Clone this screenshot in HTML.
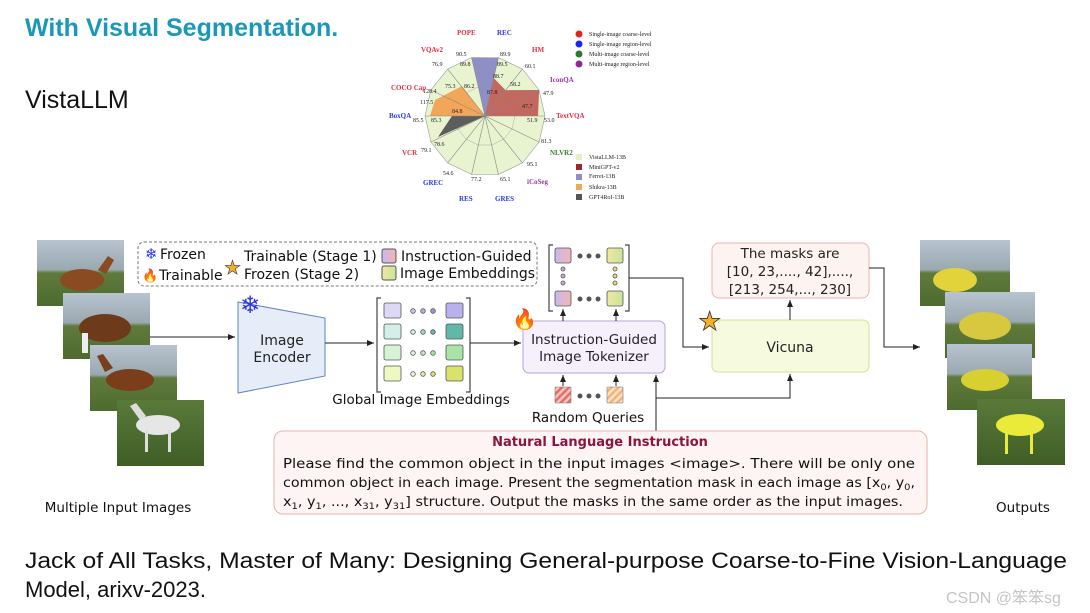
<!DOCTYPE html>
<html><head><meta charset="utf-8"><style>
html,body{margin:0;padding:0;background:#fff;}
svg{display:block;font-family:"Liberation Sans","DejaVu Sans",sans-serif;}
.d{font-family:"DejaVu Sans","Liberation Sans",sans-serif;}
.s{font-family:"Liberation Serif",serif;font-weight:bold;font-size:7px;}
.n{font-family:"Liberation Serif",serif;font-size:6px;fill:#222;}
</style></head><body>
<svg width="1090" height="613" viewBox="0 0 1090 613" xmlns="http://www.w3.org/2000/svg">
<defs>
<marker id="ar" markerWidth="8" markerHeight="8" refX="7" refY="4" orient="auto" markerUnits="userSpaceOnUse"><path d="M0,1 L7,4 L0,7 z" fill="#222"/></marker>
<linearGradient id="sky" x1="0" y1="0" x2="0" y2="1"><stop offset="0" stop-color="#b8c4d0"/><stop offset="0.45" stop-color="#9aa8b0"/><stop offset="0.5" stop-color="#5f7a3c"/><stop offset="1" stop-color="#4d6b2e"/></linearGradient>
<linearGradient id="grass" x1="0" y1="0" x2="0" y2="1"><stop offset="0" stop-color="#5a7a3a"/><stop offset="1" stop-color="#3f5e26"/></linearGradient>
<linearGradient id="pk" x1="0" y1="0" x2="1" y2="0"><stop offset="0" stop-color="#c9b8ef"/><stop offset="1" stop-color="#f4b4b4"/></linearGradient>
<linearGradient id="yg" x1="0" y1="0" x2="1" y2="0"><stop offset="0" stop-color="#f2e7a0"/><stop offset="1" stop-color="#c9e39a"/></linearGradient>
<pattern id="hr" width="5" height="5" patternUnits="userSpaceOnUse" patternTransform="rotate(45)"><rect width="5" height="5" fill="#f7c6c0"/><rect width="2.5" height="5" fill="#ea6b6b"/></pattern>
<pattern id="ho" width="5" height="5" patternUnits="userSpaceOnUse" patternTransform="rotate(45)"><rect width="5" height="5" fill="#fbe2c6"/><rect width="2.5" height="5" fill="#f3b37c"/></pattern>
</defs>

<text x="25" y="36" font-size="25" font-weight="bold" fill="#1b98b8">With Visual Segmentation.</text>
<text x="25" y="108" font-size="25" fill="#111">VistaLLM</text>

<!-- radar -->
<polygon points="545,116 539.1,90 522.4,69.1 498.4,57.5 471.6,57.5 447.6,69.1 430.9,90 425,116 430.9,142 447.6,162.9 471.6,174.5 498.4,174.5 522.4,162.9 539.1,142" fill="#e8f3cf" stroke="#999" stroke-width="0.6"/>
<polygon points="515,116 512,103 500,92 492,87 478,87 466,93 458,103 455,116 458,129 466,139 478,145 492,145 504,139 512,129" fill="none" stroke="#aaa" stroke-width="0.5"/>
<polygon points="485,116 471.6,57.5 498.4,58" fill="#8e8fc4"/>
<polygon points="485,116 493.7,78 505.6,90.2 539.1,90 538,116" fill="#c2685e"/>
<polygon points="485,116 462,86 435,100 430,116" fill="#f2a65a"/>
<polygon points="485,116 452,116 438,137" fill="#5d5d5d"/>
<g stroke="#888" stroke-width="0.6">
<line x1="485" y1="116" x2="545" y2="116"/><line x1="485" y1="116" x2="539.1" y2="90"/><line x1="485" y1="116" x2="522.4" y2="69.1"/><line x1="485" y1="116" x2="498.4" y2="57.5"/><line x1="485" y1="116" x2="471.6" y2="57.5"/><line x1="485" y1="116" x2="447.6" y2="69.1"/><line x1="485" y1="116" x2="430.9" y2="90"/><line x1="485" y1="116" x2="425" y2="116"/><line x1="485" y1="116" x2="430.9" y2="142"/><line x1="485" y1="116" x2="447.6" y2="162.9"/><line x1="485" y1="116" x2="471.6" y2="174.5"/><line x1="485" y1="116" x2="498.4" y2="174.5"/><line x1="485" y1="116" x2="522.4" y2="162.9"/><line x1="485" y1="116" x2="539.1" y2="142"/>
</g>
<g class="s">
<text x="457" y="35" fill="#e03040">POPE</text><text x="497" y="35" fill="#2a3adf">REC</text><text x="532" y="52" fill="#e03040">HM</text>
<text x="550" y="82" fill="#9a3aa0">IconQA</text><text x="556" y="118" fill="#e03040">TextVQA</text><text x="550" y="155" fill="#2f7d2f">NLVR2</text>
<text x="527" y="184" fill="#9a3aa0">iCoSeg</text><text x="495" y="201" fill="#2a3adf">GRES</text><text x="459" y="201" fill="#2a3adf">RES</text>
<text x="423" y="185" fill="#2a3adf">GREC</text><text x="402" y="155" fill="#e03040">VCR</text><text x="389" y="118" fill="#2a3adf">BoxQA</text>
<text x="391" y="90" fill="#e03040">COCO Cap</text><text x="421" y="52" fill="#e03040">VQAv2</text>
</g>
<g class="n">
<text x="456" y="56">90.5</text><text x="460" y="66">89.8</text><text x="500" y="56">89.9</text><text x="497" y="66">89.5</text><text x="493" y="78">88.7</text>
<text x="525" y="68">60.1</text><text x="510" y="86">58.2</text><text x="543" y="95">47.9</text><text x="522" y="108">47.7</text>
<text x="527" y="122">51.9</text><text x="544" y="122">53.0</text><text x="541" y="143">81.3</text><text x="527" y="166">95.1</text>
<text x="500" y="181">65.1</text><text x="471" y="181">77.2</text><text x="443" y="175">54.6</text><text x="421" y="152">79.1</text><text x="434" y="146">78.6</text>
<text x="413" y="122">85.5</text><text x="431" y="122">85.3</text><text x="452" y="113">84.8</text><text x="420" y="104">117.5</text>
<text x="423" y="93">128.4</text><text x="432" y="66">76.9</text><text x="445" y="88">75.3</text><text x="464" y="88">86.2</text><text x="487" y="94">87.8</text>
</g>
<circle cx="579" cy="34" r="3.5" fill="#e52222"/><circle cx="579" cy="44" r="3.5" fill="#1a26f0"/><circle cx="579" cy="54" r="3.5" fill="#2b7a2b"/><circle cx="579" cy="64" r="3.5" fill="#8a2a9a"/>
<g class="n" font-size="5.5"><text x="589" y="36">Single-image coarse-level</text><text x="589" y="46">Single-image region-level</text><text x="589" y="56">Multi-image coarse-level</text><text x="589" y="66">Multi-image region-level</text>
<text x="589" y="159">VistaLLM-13B</text><text x="589" y="169">MiniGPT-v2</text><text x="589" y="178">Ferret-13B</text><text x="589" y="189">Shikra-13B</text><text x="589" y="199">GPT4RoI-13B</text></g>
<rect x="576" y="154" width="6" height="6" fill="#e3efc6"/><rect x="576" y="164" width="6" height="6" fill="#9a2a2a"/><rect x="576" y="174" width="6" height="6" fill="#8e8fc4"/><rect x="576" y="184" width="6" height="6" fill="#f2a65a"/><rect x="576" y="194" width="6" height="6" fill="#555"/>

<!-- legend box -->
<rect x="138" y="242" width="399" height="44" rx="6" fill="none" stroke="#777" stroke-dasharray="3,2" stroke-width="1"/>
<g class="d" font-size="14" fill="#111">
<text x="145" y="259" fill="#2a35e6" font-size="15">❄</text><text x="160" y="259">Frozen</text>
<text x="142" y="280" fill="#f07a20" font-size="13">🔥</text><text x="159" y="280">Trainable</text>
<text x="224" y="274" fill="#f4b02a" font-size="19" stroke="#333" stroke-width="0.6">★</text>
<text x="244" y="261">Trainable (Stage 1)</text><text x="244" y="279">Frozen (Stage 2)</text>
<rect x="382" y="249" width="14" height="14" rx="2" fill="url(#pk)" stroke="#555"/><rect x="382" y="266" width="14" height="14" rx="2" fill="url(#yg)" stroke="#555"/>
<text x="401" y="261">Instruction-Guided</text><text x="400" y="278">Image Embeddings</text>
</g>

<!-- input images -->
<g>
<rect x="37" y="240" width="87" height="66" fill="url(#sky)"/><ellipse cx="82" cy="280" rx="22" ry="11" fill="#8a4a22"/><path d="M98,270 l10,-14 6,4 -8,14z" fill="#8a4a22"/>
<rect x="63" y="293" width="87" height="66" fill="url(#sky)"/><ellipse cx="105" cy="328" rx="26" ry="14" fill="#6e3a1c"/><rect x="82" y="333" width="6" height="20" fill="#eee"/>
<rect x="90" y="345" width="87" height="66" fill="url(#sky)"/><ellipse cx="130" cy="380" rx="24" ry="11" fill="#7a3e1a"/><path d="M105,372 l-8,-16 6,-2 10,14z" fill="#7a3e1a"/>
<rect x="117" y="400" width="87" height="66" fill="url(#grass)"/><ellipse cx="158" cy="425" rx="22" ry="10" fill="#e6e6e6"/><path d="M140,420 l-10,-14 6,-3 10,13z" fill="#ddd"/><rect x="145" y="430" width="3" height="22" fill="#ddd"/><rect x="168" y="430" width="3" height="22" fill="#ddd"/>
</g>
<text x="118" y="512" text-anchor="middle" class="d" font-size="13.5" fill="#111">Multiple Input Images</text>

<!-- output images -->
<g>
<rect x="920" y="240" width="90" height="66" fill="url(#sky)"/><ellipse cx="955" cy="280" rx="22" ry="12" fill="#e2d33a"/>
<rect x="945" y="292" width="90" height="66" fill="url(#sky)"/><ellipse cx="985" cy="326" rx="26" ry="14" fill="#d8c840"/>
<rect x="947" y="344" width="85" height="66" fill="url(#sky)"/><ellipse cx="985" cy="380" rx="24" ry="11" fill="#d8cf30"/>
<rect x="977" y="399" width="88" height="66" fill="url(#grass)"/><ellipse cx="1020" cy="425" rx="24" ry="11" fill="#eaea3a"/><rect x="1005" y="430" width="3" height="24" fill="#eaea3a"/><rect x="1030" y="430" width="3" height="24" fill="#eaea3a"/>
</g>
<text x="1023" y="512" text-anchor="middle" class="d" font-size="13.5" fill="#111">Outputs</text>

<!-- encoder -->
<polygon points="238,302 325,318 325,376 238,393" fill="#e6edf8" stroke="#5b86c4" stroke-width="1"/>
<text x="240" y="313" fill="#2a35e6" font-size="24" class="d">❄</text>
<text x="282" y="345" text-anchor="middle" class="d" font-size="14" fill="#222">Image</text>
<text x="282" y="362" text-anchor="middle" class="d" font-size="14" fill="#222">Encoder</text>
<line x1="150" y1="337" x2="235" y2="337" stroke="#222" marker-end="url(#ar)"/>
<line x1="325" y1="343" x2="374" y2="343" stroke="#222" marker-end="url(#ar)"/>

<!-- embeddings -->
<path d="M381,298 h-4 v94 h4 M466,298 h4 v94 h-4" fill="none" stroke="#444" stroke-width="1.2"/>
<g stroke="#555" stroke-width="0.8">
<rect x="384" y="303" width="17" height="15" rx="2" fill="#ddd8f6"/><rect x="446" y="303" width="17" height="15" rx="2" fill="#b9b1ee"/>
<rect x="384" y="324" width="17" height="15" rx="2" fill="#d4efe9"/><rect x="446" y="324" width="17" height="15" rx="2" fill="#62b8a8"/>
<rect x="384" y="345" width="17" height="15" rx="2" fill="#d7f3d5"/><rect x="446" y="345" width="17" height="15" rx="2" fill="#a9e3a7"/>
<rect x="384" y="366" width="17" height="15" rx="2" fill="#eef8c3"/><rect x="446" y="366" width="17" height="15" rx="2" fill="#dbe26a"/>
<circle cx="413" cy="311" r="2.3" fill="#cbc6ee"/><circle cx="423" cy="311" r="2.3" fill="#b3aee6"/><circle cx="433" cy="311" r="2.3" fill="#9d94e0"/>
<circle cx="413" cy="332" r="2.3" fill="#d4efe9"/><circle cx="423" cy="332" r="2.3" fill="#9fd6cb"/><circle cx="433" cy="332" r="2.3" fill="#62b8a8"/>
<circle cx="413" cy="353" r="2.3" fill="#e2f7e0"/><circle cx="423" cy="353" r="2.3" fill="#c4edc2"/><circle cx="433" cy="353" r="2.3" fill="#a9e3a7"/>
<circle cx="413" cy="374" r="2.3" fill="#f3f9cf"/><circle cx="423" cy="374" r="2.3" fill="#e8ed9d"/><circle cx="433" cy="374" r="2.3" fill="#dbe26a"/>
</g>
<text x="421" y="404" text-anchor="middle" class="d" font-size="13.5" fill="#111">Global Image Embeddings</text>
<line x1="470" y1="343" x2="521" y2="343" stroke="#222" marker-end="url(#ar)"/>

<!-- tokenizer -->
<rect x="523" y="321" width="142" height="52" rx="6" fill="#f5f0fb" stroke="#b9a3d6"/>
<text x="512" y="326" font-size="20" fill="#f07a20">🔥</text>
<text x="594" y="344" text-anchor="middle" class="d" font-size="13.5" fill="#222">Instruction-Guided</text>
<text x="594" y="361" text-anchor="middle" class="d" font-size="13.5" fill="#222">Image Tokenizer</text>

<!-- output tokens -->
<path d="M553,245 h-4 v66 h4 M625,245 h4 v66 h-4" fill="none" stroke="#444" stroke-width="1.2"/>
<g stroke="#555" stroke-width="0.8">
<rect x="555" y="248" width="16" height="15" rx="2" fill="url(#pk)"/><rect x="607" y="248" width="16" height="15" rx="2" fill="url(#yg)"/>
<rect x="555" y="291" width="16" height="15" rx="2" fill="url(#pk)"/><rect x="607" y="291" width="16" height="15" rx="2" fill="url(#yg)"/>
<circle cx="563" cy="269" r="2" fill="#c9a8e0"/><circle cx="563" cy="276" r="2" fill="#c9a8e0"/><circle cx="563" cy="283" r="2" fill="#c9a8e0"/>
<circle cx="615" cy="269" r="2" fill="#e8de70"/><circle cx="615" cy="276" r="2" fill="#e8de70"/><circle cx="615" cy="283" r="2" fill="#e8de70"/>
</g>
<g fill="#555"><circle cx="580" cy="256" r="2.5"/><circle cx="589" cy="256" r="2.5"/><circle cx="598" cy="256" r="2.5"/><circle cx="580" cy="299" r="2.5"/><circle cx="589" cy="299" r="2.5"/><circle cx="598" cy="299" r="2.5"/></g>
<line x1="563" y1="321" x2="563" y2="309" stroke="#222" marker-end="url(#ar)"/>
<line x1="616" y1="321" x2="616" y2="309" stroke="#222" marker-end="url(#ar)"/>
<polyline points="629,278 683,278 683,347 709,347" fill="none" stroke="#222" marker-end="url(#ar)"/>

<!-- random queries -->
<rect x="555" y="387" width="16" height="16" rx="1" fill="url(#hr)" stroke="#777" stroke-width="0.6"/>
<rect x="607" y="387" width="16" height="16" rx="1" fill="url(#ho)" stroke="#777" stroke-width="0.6"/>
<g fill="#555"><circle cx="580" cy="396" r="2.5"/><circle cx="589" cy="396" r="2.5"/><circle cx="598" cy="396" r="2.5"/></g>
<line x1="563" y1="386" x2="563" y2="375" stroke="#222" marker-end="url(#ar)"/>
<line x1="616" y1="386" x2="616" y2="375" stroke="#222" marker-end="url(#ar)"/>
<text x="588" y="422" text-anchor="middle" class="d" font-size="13.5" fill="#111">Random Queries</text>

<!-- vicuna -->
<rect x="712" y="320" width="157" height="52" rx="6" fill="#f6fadf" stroke="#cfe39a"/>
<text x="790" y="352" text-anchor="middle" class="d" font-size="14" fill="#222">Vicuna</text>
<text x="698" y="330" font-size="26" fill="#f4b02a" stroke="#333" stroke-width="0.8">★</text>
<rect x="712" y="243" width="157" height="55" rx="7" fill="#fdf3f1" stroke="#eab5ae"/>
<text x="790" y="258" text-anchor="middle" class="d" font-size="13.5" fill="#222">The masks are</text>
<text x="790" y="276" text-anchor="middle" class="d" font-size="13.5" fill="#222">[10, 23,...., 42],....,</text>
<text x="790" y="294" text-anchor="middle" class="d" font-size="13.5" fill="#222">[213, 254,..., 230]</text>
<line x1="790" y1="320" x2="790" y2="300" stroke="#222" marker-end="url(#ar)"/>
<polyline points="869,268 884,268 884,347 920,347" fill="none" stroke="#222" marker-end="url(#ar)"/>

<line x1="656" y1="431" x2="656" y2="375" stroke="#222" marker-end="url(#ar)"/>
<polyline points="656,398 790,398 790,374" fill="none" stroke="#222" marker-end="url(#ar)"/>

<!-- instruction -->
<rect x="274" y="431" width="653" height="83" rx="9" fill="#fdf4f3" stroke="#e6b3ad"/>
<text x="600" y="446" text-anchor="middle" class="d" font-size="13" font-weight="bold" fill="#8a1540">Natural Language Instruction</text>
<g class="d" font-size="13" fill="#111">
<text x="283" y="468" textLength="632" lengthAdjust="spacingAndGlyphs">Please find the common object in the input images &lt;image&gt;. There will be only one</text>
<text x="283" y="487" textLength="632" lengthAdjust="spacingAndGlyphs">common object in each image. Present the segmentation mask in each image as [x<tspan font-size="9" dy="3">0</tspan><tspan dy="-3">, y</tspan><tspan font-size="9" dy="3">0</tspan><tspan dy="-3">,</tspan></text>
<text x="283" y="506" textLength="620" lengthAdjust="spacingAndGlyphs">x<tspan font-size="9" dy="3">1</tspan><tspan dy="-3">, y</tspan><tspan font-size="9" dy="3">1</tspan><tspan dy="-3">, ..., x</tspan><tspan font-size="9" dy="3">31</tspan><tspan dy="-3">, y</tspan><tspan font-size="9" dy="3">31</tspan><tspan dy="-3">] structure. Output the masks in the same order as the input images.</tspan></text>
</g>

<text x="25" y="568" font-size="22" fill="#111" textLength="1042" lengthAdjust="spacingAndGlyphs">Jack of All Tasks, Master of Many: Designing General-purpose Coarse-to-Fine Vision-Language</text>
<text x="25" y="597" font-size="22" fill="#111">Model, arixv-2023.</text>
<text x="946" y="603" font-size="16" fill="#c4c4c4" style="font-family:'Liberation Sans','Noto Sans CJK SC',sans-serif">CSDN @笨笨sg</text>
</svg>
</body></html>
